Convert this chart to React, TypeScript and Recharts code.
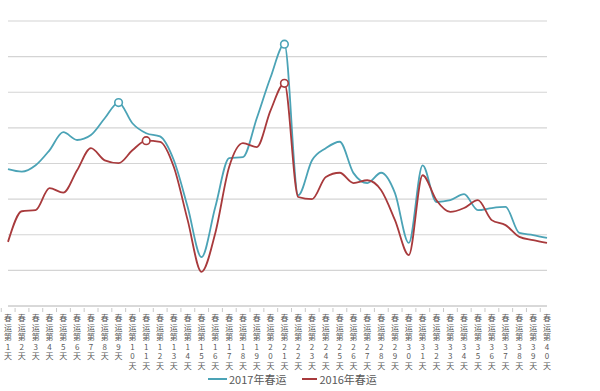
import { CartesianGrid, Line, LineChart, XAxis, YAxis } from 'recharts'

document.body.style.margin = '0'

const days = [
  '春运第1天', '春运第2天', '春运第3天', '春运第4天', '春运第5天',
  '春运第6天', '春运第7天', '春运第8天', '春运第9天', '春运第10天',
  '春运第11天', '春运第12天', '春运第13天', '春运第14天', '春运第15天',
  '春运第16天', '春运第17天', '春运第18天', '春运第19天', '春运第20天',
  '春运第21天', '春运第22天', '春运第23天', '春运第24天', '春运第25天',
  '春运第26天', '春运第27天', '春运第28天', '春运第29天', '春运第30天',
  '春运第31天', '春运第32天', '春运第33天', '春运第34天', '春运第35天',
  '春运第36天', '春运第37天', '春运第38天', '春运第39天', '春运第40天',
]

const y2017 = [
  3.84, 3.77, 3.95, 4.37, 4.88, 4.66, 4.8, 5.27, 5.71, 5.13,
  4.85, 4.76, 4.09, 2.78, 1.37, 2.78, 4.15, 4.18, 5.27, 6.42,
  7.35, 3.11, 4.09, 4.43, 4.61, 3.73, 3.45, 3.74, 3.17, 1.77,
  3.95, 2.92, 2.97, 3.14, 2.69, 2.75, 2.78, 2.05, 1.99, 1.91,
]

const y2016 = [
  1.8, 2.66, 2.69, 3.31, 3.18, 3.81, 4.43, 4.09, 4.01, 4.37,
  4.64, 4.61, 3.9, 2.41, 0.96, 2.05, 3.9, 4.57, 4.46, 5.49,
  6.25, 3.06, 3.0, 3.62, 3.74, 3.45, 3.53, 3.25, 2.41, 1.43,
  3.67, 2.97, 2.64, 2.75, 2.97, 2.41, 2.27, 1.94, 1.85, 1.77,
]

// 标记的峰值点（下标）
const marks2017 = [8, 20]
const marks2016 = [10, 20]

const yTicks = [0, 1, 2, 3, 4, 5, 6, 7, 8]

const C2017 = '#4ba3b6'
const C2016 = '#a83a3c'
const W = 600
const H = 391
const M = { top: 21, right: 53, left: 8, bottom: 20 }

const data = days.map((day, i) => ({ day, a: y2017[i], b: y2016[i] }))

const band = (W - M.left - M.right) / days.length

function VerticalTick({ x, y, payload }: any) {
  const chars = Array.from(String(payload.value))
  return (
    <g transform={`translate(${x},${y})`}>
      <line x1={-band / 2} x2={-band / 2} y1={-6} y2={-2} stroke="#c8c8c8" />
      <text textAnchor="middle" fontSize={8} fill="#595959" fontFamily="'Noto Sans CJK SC', sans-serif">
        {chars.map((c, i) => (
          <tspan key={i} x={0} dy={i === 0 ? 7 : 9.6}>
            {c}
          </tspan>
        ))}
      </text>
    </g>
  )
}

function markDot(marks: number[], color: string) {
  return (props: any) => {
    const { cx, cy, index } = props
    if (!marks.includes(index)) return <g key={index} />
    return <circle key={index} cx={cx} cy={cy} r={3.8} fill="#fff" stroke={color} strokeWidth={1.6} />
  }
}

export default function App() {
  return (
    <div style={{ position: 'relative', width: W, height: H, background: '#fff' }}>
      <LineChart width={W} height={H} data={data} margin={M}>
        <CartesianGrid vertical={false} stroke="#d4d4d4" strokeWidth={1.2} />
        <YAxis hide domain={[0, 8]} ticks={yTicks} />
        <XAxis
          dataKey="day"
          interval={0}
          height={65}
          axisLine={{ stroke: '#c8c8c8' }}
          tickLine={false}
          tick={<VerticalTick />}
        />
        <Line
          type="monotone"
          dataKey="a"
          stroke={C2017}
          strokeWidth={1.8}
          dot={markDot(marks2017, C2017)}
          activeDot={false}
          isAnimationActive={false}
        />
        <Line
          type="monotone"
          dataKey="b"
          stroke={C2016}
          strokeWidth={1.8}
          dot={markDot(marks2016, C2016)}
          activeDot={false}
          isAnimationActive={false}
        />
      </LineChart>
      <div
        style={{
          position: 'absolute',
          left: 208,
          top: 371,
          display: 'flex',
          alignItems: 'center',
          fontSize: 11,
          color: '#595959',
          fontFamily: "'Noto Sans CJK SC', sans-serif",
          whiteSpace: 'nowrap',
        }}
      >
        <span style={{ width: 19, height: 2, background: C2017, marginRight: 2 }} />
        <span>2017年春运</span>
        <span style={{ width: 15, height: 2, background: C2016, marginLeft: 16, marginRight: 2 }} />
        <span>2016年春运</span>
      </div>
    </div>
  )
}
